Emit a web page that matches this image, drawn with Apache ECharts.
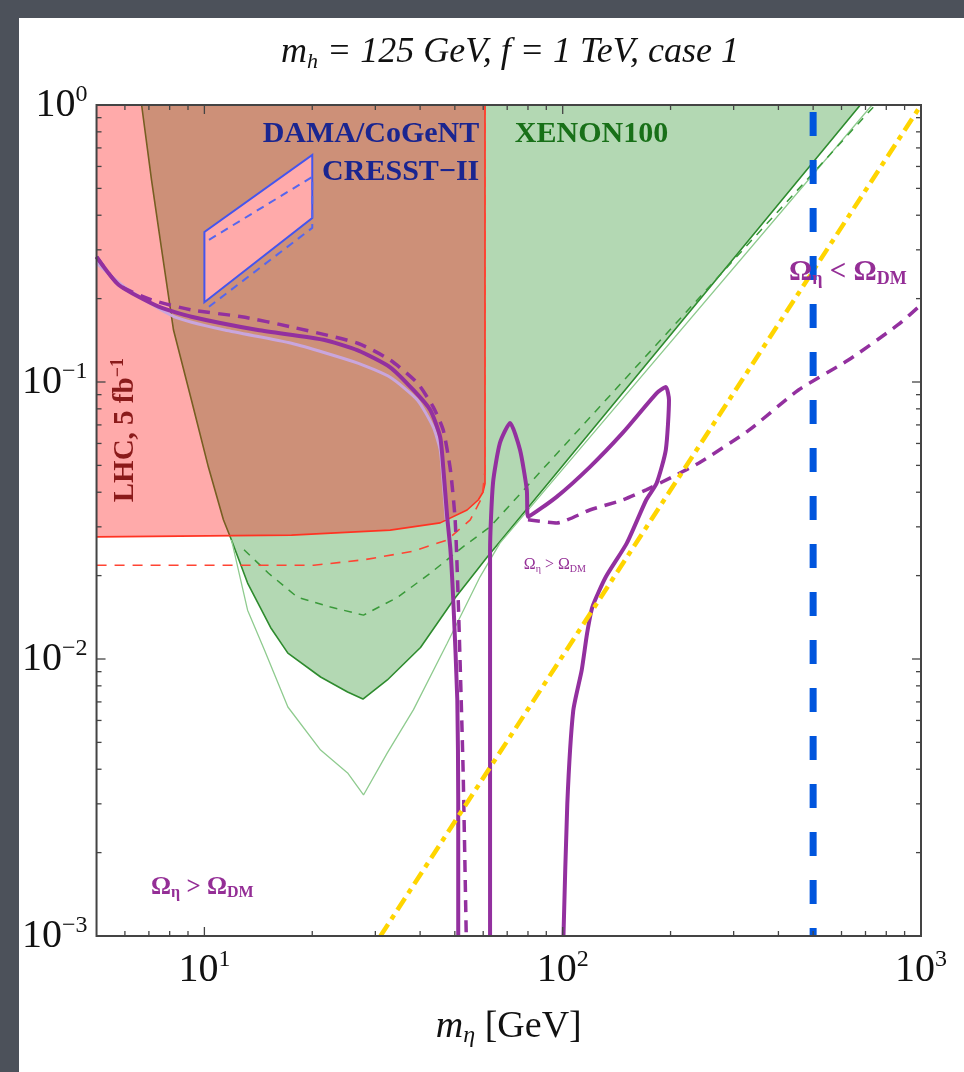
<!DOCTYPE html>
<html><head><meta charset="utf-8">
<script src="https://cdn.jsdelivr.net/npm/echarts@6/dist/echarts.min.js"></script>
<style>
html,body{margin:0;padding:0;width:964px;height:1072px;overflow:hidden;background:#4c515a;}
#wrap{position:absolute;left:19px;top:18px;width:945px;height:1054px;background:#fff;}
#chart{width:945px;height:1054px;}
</style></head><body><div id="wrap"><div id="chart"></div></div>
<script>
// ---- axis ranges & ticks ----
var X_RANGE = [5, 1000];
var Y_RANGE = [0.001, 1];
var xMajorTicks = [10, 100, 1000];
var xMinorTicks = [6,7,8,9,20,30,40,50,60,70,80,90,200,300,400,500,600,700,800,900];
var yMajorTicks = [0.001, 0.01, 0.1, 1];
var yMinorTicks = [0.002,0.003,0.004,0.005,0.006,0.007,0.008,0.009,0.02,0.03,0.04,0.05,0.06,0.07,0.08,0.09,0.2,0.3,0.4,0.5,0.6,0.7,0.8,0.9];

// ---- regions ----
var xenonEdge = [[6.68,1],[7.12,0.536],[7.60,0.300],[8.20,0.154],[9.20,0.0861],[10.26,0.0493],[11.3,0.0318],[11.9,0.0269],[13.2,0.0188],[15.3,0.0130],[17.1,0.0105],[21.1,0.00861],[25.1,0.0076],[27.7,0.00717],[32.4,0.0084],[40.1,0.0110],[49.5,0.0163],[61.5,0.0233],[677,1]];
var lhcEdge = [[5,0.0276],[17.5,0.0280],[33.0,0.0292],[45.5,0.0310],[54.1,0.0345],[58.1,0.0375],[59.9,0.0400],[60.7,0.0430],[60.7,1]];
var xenonDashed = [[12.9,0.0248],[15.1,0.0204],[18.2,0.0167],[22.5,0.0154],[27.8,0.0144],[34.6,0.0167],[42.7,0.0204],[52.7,0.0254],[62.7,0.0300],[745,1]];
var xenonThin = [[11.9,0.0269],[13.2,0.0150],[14.7,0.0108],[17.1,0.00671],[21.1,0.00469],[25.1,0.00388],[27.8,0.00323],[32.4,0.00458],[38.3,0.00655],[47.6,0.0114],[58.8,0.0198],[66.8,0.0262],[730,1]];
var lhcDashed = [[60.7,1],[60.7,0.048],[59.6,0.0384],[55.2,0.0318],[47.6,0.0269],[38.3,0.0245],[27.8,0.0228],[20.2,0.0218],[5,0.0218]];

// ---- relic-density curves ----
var purpleSolidA = [[5,0.283],[5.77,0.224],[7.45,0.187],[9.2,0.172],[14.1,0.154],[21.5,0.142],[26.8,0.130],[33,0.113],[38.3,0.0936],[42.7,0.0792],[45.5,0.0633],[46.4,0.0493],[47.6,0.0326],[48.6,0.0248],[49.5,0.0163],[50.8,0.00711],[51.1,0.0031],[51.1,0.001]];
var purpleSolidB = [[62.7,0.001],[62.7,0.0248],[63.9,0.0432],[66.8,0.0602],[71.3,0.0711],[76.0,0.0569],[79.4,0.0408],[80.0,0.0326],[96.2,0.0385],[119,0.0493],[147,0.0655],[183,0.0912],[194,0.0959],[198,0.0861],[194,0.0569],[183,0.0432],[171,0.0375],[151,0.0262],[132,0.0198],[121,0.0154],[117,0.0124],[113,0.00912],[107,0.00650],[103,0.00300],[100.5,0.001]];
var purpleLight = [[5,0.269],[5.99,0.220],[8.25,0.172],[11.4,0.154],[17.5,0.138],[26.8,0.117],[33,0.104],[39.3,0.0861],[43.5,0.0688],[45.5,0.0569],[46.4,0.0432],[47.3,0.0318]];
var purpleDashedA = [[5,0.283],[5.77,0.224],[7.12,0.198],[9.2,0.182],[12.7,0.172],[17.5,0.158],[26.8,0.138],[33.0,0.120],[39.3,0.0991],[43.5,0.0813],[46.4,0.0671],[48.6,0.0481],[50.1,0.0318],[51.1,0.0163],[52.7,0.00407],[53.8,0.001]];
var purpleDashedB = [[80,0.0318],[96.2,0.031],[119,0.0345],[147,0.0375],[171,0.0408],[202,0.0454],[240,0.051],[331,0.067],[455,0.0936],[627,0.12],[863,0.161],[1000,0.19]];

// ---- other limits ----
var yellowLine = [[31,0.001],[1000,1]];
var blueLine = [[500,1],[500,0.001]];
var damaBox = [[10,0.194],[10,0.348],[20,0.66],[20,0.391]];
var cresstDashed = [[10.3,0.326],[20,0.55],[20,0.36],[10.3,0.187]];

// ---- annotations (anchor in data coords) ----
var annotations = [
  {pos:[58.5,0.786], text:'{t|DAMA/CoGeNT}', kind:'dama', align:'right'},
  {pos:[58.5,0.573], text:'{t|CRESST\u2212II}', kind:'dama', align:'right'},
  {pos:[73.5,0.786], text:'{t|XENON100}', kind:'xenon', align:'left'},
  {pos:[6.01,0.067], text:'{t|LHC, 5 fb}{s|\u22121}', kind:'lhc', align:'center'},
  {pos:[625,0.248], text:'{o|\u03A9}{s|\u03B7}{o| < \u03A9}{s|DM}', kind:'omegaBig', align:'center'},
  {pos:[95.1,0.0218], text:'{o|\u03A9}{s|\u03B7}{o| > \u03A9}{s|DM}', kind:'omegaSmall', align:'center'},
  {pos:[9.87,0.0015], text:'{o|\u03A9}{s|\u03B7}{o| > \u03A9}{s|DM}', kind:'omegaMid', align:'center'}
];

var SERIF = '"Liberation Serif","Times New Roman",serif';
var TICK = '#444';
var PURPLE = '#93309F';

function isPow10(v){ var l = Math.log10(v); return Math.abs(l - Math.round(l)) < 1e-6; }
function powLabel(v){
  if (!isPow10(v)) return '';
  var e = Math.round(Math.log10(v));
  return '{b|10}{s|' + (e < 0 ? '\u2212' + (-e) : e) + '}';
}
var tickRich = {
  b:{fontFamily:SERIF, fontSize:40, color:'#111', lineHeight:44},
  s:{fontFamily:SERIF, fontSize:24, color:'#111', verticalAlign:'top', lineHeight:24}
};

function tickSeries(vals, axis, len){
  return {
    type:'custom', silent:true, z:40, animation:false, clip:false,
    data: vals.map(function(v){ return axis==='x' ? [v, Y_RANGE[0]] : [X_RANGE[0], v]; }),
    renderItem: function(params, api){
      var st = {stroke:TICK, lineWidth:1.3};
      if (axis === 'x') {
        var v = api.value(0);
        var b = api.coord([v, Y_RANGE[0]]), t = api.coord([v, Y_RANGE[1]]);
        return {type:'group', children:[
          {type:'line', shape:{x1:b[0],y1:b[1],x2:b[0],y2:b[1]-len}, style:st},
          {type:'line', shape:{x1:t[0],y1:t[1],x2:t[0],y2:t[1]+len}, style:st}
        ]};
      } else {
        var w = api.value(1);
        var l = api.coord([X_RANGE[0], w]), r = api.coord([X_RANGE[1], w]);
        return {type:'group', children:[
          {type:'line', shape:{x1:l[0],y1:l[1],x2:l[0]+len,y2:l[1]}, style:st},
          {type:'line', shape:{x1:r[0],y1:r[1],x2:r[0]-len,y2:r[1]}, style:st}
        ]};
      }
    }
  };
}

function lineS(data, color, width, type, z, extra){
  var s = {type:'line', data:data, showSymbol:false, symbol:'none', z:z, animation:false, silent:true,
    lineStyle:{color:color, width:width, type:type||'solid'}};
  if (extra) for (var k in extra) s[k] = extra[k];
  return s;
}

var annotStyles = {
  dama: {t:{fontFamily:SERIF, fontSize:30, fontWeight:'bold', color:'#1A2590'}},
  xenon: {t:{fontFamily:SERIF, fontSize:30, fontWeight:'bold', color:'#187018'}},
  lhc: {t:{fontFamily:SERIF, fontSize:29, fontWeight:'bold', color:'#8A1A1A', lineHeight:32},
        s:{fontFamily:SERIF, fontSize:18, fontWeight:'bold', color:'#8A1A1A', verticalAlign:'top', lineHeight:18}},
  omegaBig: {o:{fontFamily:SERIF, fontSize:29, fontWeight:'bold', color:'#942E96', lineHeight:32},
        s:{fontFamily:SERIF, fontSize:18, fontWeight:'bold', color:'#942E96', verticalAlign:'bottom', lineHeight:22}},
  omegaSmall: {o:{fontFamily:SERIF, fontSize:16, color:'#942E96', lineHeight:18},
        s:{fontFamily:SERIF, fontSize:10, color:'#942E96', verticalAlign:'bottom', lineHeight:12}},
  omegaMid: {o:{fontFamily:SERIF, fontSize:25, fontWeight:'bold', color:'#942E96', lineHeight:28},
        s:{fontFamily:SERIF, fontSize:16, fontWeight:'bold', color:'#942E96', verticalAlign:'bottom', lineHeight:19}}
};

var chart = echarts.init(document.getElementById('chart'), null, {renderer:'canvas'});
var option = {
  animation:false,
  backgroundColor:'#ffffff',
  title:{
    text:'{i|m}{sub|h}{i| = 125 GeV, }{i|f}{i| = 1 TeV, case 1}',
    left:486, top:10, textAlign:'center',
    textStyle:{fontWeight:'normal', rich:{
      i:{fontFamily:SERIF, fontStyle:'italic', fontWeight:'normal', fontSize:36, color:'#111', lineHeight:40},
      sub:{fontFamily:SERIF, fontStyle:'italic', fontWeight:'normal', fontSize:22, color:'#111', verticalAlign:'bottom', lineHeight:30}
    }}
  },
  grid:{left:74, top:87, right:43, bottom:136, show:false},
  xAxis:[{
    type:'log', logBase:10, min:X_RANGE[0], max:X_RANGE[1],
    axisLine:{show:false}, axisTick:{show:false}, splitLine:{show:false},
    axisLabel:{formatter:powLabel, rich:tickRich, margin:12},
    name:'{i|m}{sub|\u03B7}{r| [GeV]}', nameLocation:'middle', nameGap:70,
    nameTextStyle:{rich:{
      i:{fontFamily:SERIF, fontStyle:'italic', fontSize:38, color:'#111', lineHeight:42},
      sub:{fontFamily:SERIF, fontStyle:'italic', fontSize:24, color:'#111', verticalAlign:'bottom', lineHeight:34},
      r:{fontFamily:SERIF, fontSize:38, color:'#111', lineHeight:42}
    }}
  }],
  yAxis:[{
    type:'log', logBase:10, min:Y_RANGE[0], max:Y_RANGE[1],
    axisLine:{show:false}, axisTick:{show:false}, splitLine:{show:false},
    axisLabel:{formatter:powLabel, rich:tickRich, margin:9}
  }],
  series:[
    lineS(xenonEdge, '#2E8B2E', 1.6, 'solid', 1, {areaStyle:{color:'#B3D8B3', opacity:1, origin:'end'}}),
    lineS(lhcEdge, '#FF3322', 1.6, 'solid', 2, {areaStyle:{color:'rgba(255,12,12,0.35)', opacity:1, origin:'end'}}),
    lineS(xenonThin, '#8FCB8F', 1.3, 'solid', 3),
    lineS(xenonDashed, '#3A9A3A', 1.5, [8,7], 3),
    lineS(lhcDashed, '#FF4433', 1.6, [10,8], 3),
    {type:'custom', z:4, silent:true, animation:false, data:damaBox,
      renderItem:function(params, api){
        if (params.dataIndex !== 0) return null;
        var pts = damaBox.map(function(p){ return api.coord(p); });
        return {type:'polygon', shape:{points:pts}, style:{fill:'#FFAAAA', stroke:'#4455EE', lineWidth:2}};
      }},
    lineS(cresstDashed, '#5566EE', 2, [8,6], 4),
    lineS(purpleLight, '#C9A6DD', 3, 'solid', 5, {smooth:0.2}),
    lineS(purpleDashedA, PURPLE, 3.5, [12,8], 5, {smooth:0.2}),
    lineS(purpleDashedB, PURPLE, 3.5, [12,8], 5, {smooth:0.2}),
    lineS(purpleSolidA, PURPLE, 4, 'solid', 6, {smooth:0.2}),
    lineS(purpleSolidB, PURPLE, 4, 'solid', 6, {smooth:0.2}),
    {type:'line', data:yellowLine, showSymbol:false, symbol:'none', z:7, animation:false, silent:true,
      lineStyle:{color:'#FFD500', width:4.5, type:[14,6,5,6]}},
    {type:'line', data:blueLine, showSymbol:false, symbol:'none', z:8, animation:false, silent:true,
      lineStyle:{color:'#0055DD', width:7, type:[24,24], dashOffset:41}},
    {type:'scatter', symbolSize:0, silent:true, z:30, animation:false, itemStyle:{opacity:1},
      data: annotations.map(function(a){
        return {value:a.pos, label:{show:true, position:'inside', formatter:a.text, align:a.align,
          rotate: a.kind==='lhc' ? 90 : 0, opacity:1, rich:annotStyles[a.kind]}};
      })},
    {type:'custom', z:41, silent:true, animation:false, clip:false, data:[[X_RANGE[0],Y_RANGE[0]]],
      renderItem:function(params, api){
        var a = api.coord([X_RANGE[0], Y_RANGE[1]]), b = api.coord([X_RANGE[1], Y_RANGE[0]]);
        return {type:'rect', shape:{x:a[0], y:a[1], width:b[0]-a[0], height:b[1]-a[1]},
          style:{fill:null, stroke:'#444', lineWidth:2}};
      }},
    tickSeries(xMajorTicks, 'x', 9),
    tickSeries(xMinorTicks, 'x', 5),
    tickSeries(yMajorTicks, 'y', 9),
    tickSeries(yMinorTicks, 'y', 5)
  ]
};
chart.setOption(option);
</script></body></html>
